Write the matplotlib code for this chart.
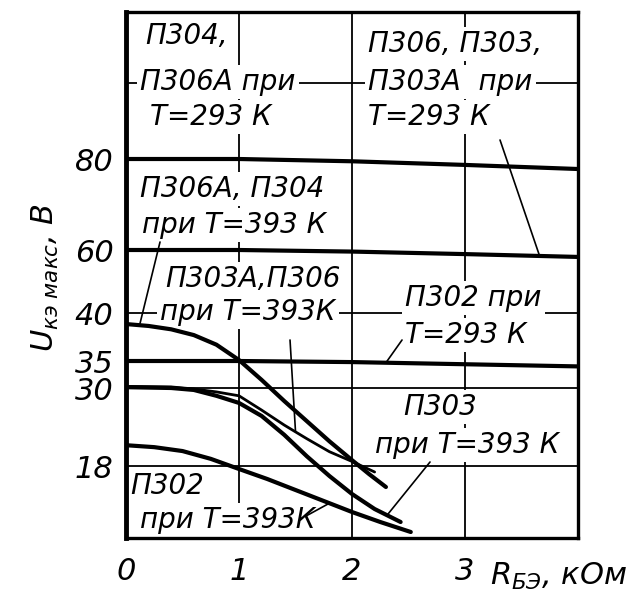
import numpy as np
import matplotlib
matplotlib.use('Agg')
import matplotlib.pyplot as plt

plt.rcParams['font.family'] = ['DejaVu Sans']
plt.rcParams['mathtext.fontset'] = 'dejavusans'

# flat curves (T = 293 K)
x_flat = [0, 1, 2, 3, 4]
u_p304_293 = [80, 80, 79.5, 78.7, 77.8]      # П304, П306А
u_p306_293 = [60, 60, 59.5, 58.7, 57.8]      # П306, П303, П303А
u_p302_293 = [35, 35, 34.8, 34.4, 34.0]      # П302

# falling curves (T = 393 K)
x_p306a_393 = [0, 0.2, 0.4, 0.6, 0.8, 1.0, 1.2, 1.4, 1.6, 1.8, 2.0, 2.15, 2.3]
u_p306a_393 = [38.85, 38.65, 38.3, 37.7, 36.7, 35.1, 31.5, 28.0, 24.9, 21.8, 18.9, 16.0, 12.75]

x_p303a_393 = [0, 0.4, 0.6, 0.8, 1.0, 1.2, 1.4, 1.6, 1.8, 2.0, 2.2]
u_p303a_393 = [30.3, 30.2, 29.85, 29.4, 28.8, 26.6, 24.3, 22.2, 20.2, 18.7, 16.5]

x_p303_393 = [0, 0.4, 0.6, 0.8, 1.0, 1.2, 1.4, 1.6, 1.8, 2.0, 2.2, 2.43]
u_p303_393 = [30.15, 30.0, 29.7, 28.8, 27.7, 25.7, 22.8, 19.5, 15.5, 11.0, 7.25, 4.0]

x_p302_393 = [0, 0.25, 0.5, 0.75, 1.0, 1.25, 1.5, 1.75, 2.0, 2.25, 2.52]
u_p302_393 = [21.2, 20.9, 20.3, 19.1, 17.25, 14.75, 12.0, 9.25, 6.5, 4.0, 1.5]

y_ticks = [18, 30, 35, 40, 60, 80]
x_ticks = [0, 1, 2, 3]
y_grid = [18, 30, 40, 100]

# the nomogram has an uneven vertical scale
Y_KNOTS = [0, 18, 30, 35, 40, 60, 80, 100, 120]
Y_POS = [0, 72, 150, 177, 225, 288, 379, 455, 526]


def fwd(v):
    return np.interp(v, Y_KNOTS, Y_POS)


def inv(p):
    return np.interp(p, Y_POS, Y_KNOTS)


fig = plt.figure(figsize=(6.32, 6.06), dpi=100)
ax = fig.add_axes([0.1994, 0.1122, 0.7152, 0.868])
ax.set_yscale('function', functions=(fwd, inv))
ax.set_xlim(0, 4)
ax.set_ylim(0, 120)

# grid
for g in y_grid:
    ax.axhline(g, color='black', lw=1.3, zorder=1)
for g in x_ticks[1:]:
    ax.axvline(g, color='black', lw=1.3, zorder=1)

lw = 3.0
ax.plot(x_flat, u_p304_293, color='black', lw=lw, zorder=3)
ax.plot(x_flat, u_p306_293, color='black', lw=lw, zorder=3)
ax.plot(x_flat, u_p302_293, color='black', lw=lw, zorder=3)
ax.plot(x_p306a_393, u_p306a_393, color='black', lw=lw, zorder=3,
        solid_capstyle='round', solid_joinstyle='round')
ax.plot(x_p303a_393, u_p303a_393, color='black', lw=2.0, zorder=3,
        solid_capstyle='round', solid_joinstyle='round')
ax.plot(x_p303_393, u_p303_393, color='black', lw=lw, zorder=3,
        solid_capstyle='round', solid_joinstyle='round')
ax.plot(x_p302_393, u_p302_393, color='black', lw=lw, zorder=3,
        solid_capstyle='round', solid_joinstyle='round')

ax.set_xticks(x_ticks)
ax.set_xticklabels([str(t) for t in x_ticks])
ax.set_yticks(y_ticks)
ax.set_yticklabels([str(t) for t in y_ticks])
ax.yaxis.set_minor_locator(matplotlib.ticker.NullLocator())
ax.tick_params(length=0, labelsize=22)
ax.tick_params(axis='y', pad=9)
ax.tick_params(axis='x', pad=14)
for lab in ax.get_xticklabels() + ax.get_yticklabels():
    lab.set_style('italic')

for side in ['top', 'right', 'bottom']:
    ax.spines[side].set_linewidth(2.4)
ax.spines['left'].set_linewidth(3.5)


def at(xp, yp):
    # pixel position of the reference picture -> axes fraction
    return ((xp - 126) / 452, (538 - yp) / 526)


box = dict(boxstyle='square,pad=0.12', fc='white', ec='none')
labels = [
    ('П304,', 145, 36),
    ('П306А при', 140, 82),
    ('Т=293 К', 150, 117),
    ('П306, П303,', 368, 44),
    ('П303А  при', 368, 82),
    ('Т=293 К', 368, 117),
    ('П306А, П304', 140, 189),
    ('при Т=393 К', 142, 225),
    ('П303А,П306', 165, 279),
    ('при Т=393К', 160, 312),
    ('П302 при', 405, 298),
    ('Т=293 К', 405, 335),
    ('П303', 403, 407),
    ('при Т=393 К', 375, 445),
    ('П302', 130, 486),
    ('при Т=393К', 140, 520),
]
for txt, xp, yp in labels:
    ax.text(*at(xp, yp), txt, transform=ax.transAxes, fontsize=20,
            style='italic', ha='left', va='center', bbox=box, zorder=2)

# leader lines from labels to curves
leaders = [
    ((500, 140), 3.66, x_flat, u_p306_293),
    ((160, 242), 0.12, x_p306a_393, u_p306a_393),
    ((290, 340), 1.5, x_p303a_393, u_p303a_393),
    ((402, 340), 2.3, x_flat, u_p302_293),
    ((430, 462), 2.31, x_p303_393, u_p303_393),
    ((306, 516), 1.8, x_p302_393, u_p302_393),
]
for (xp, yp), xv, xs, ys in leaders:
    ax.annotate('', xy=(xv, np.interp(xv, xs, ys)), xycoords='data',
                xytext=at(xp, yp), textcoords='axes fraction',
                arrowprops=dict(arrowstyle='-', color='black', lw=1.2,
                                shrinkA=0, shrinkB=0), zorder=2.5)

fig.text(45 / 632, 1 - 278 / 606, r'$U_{кэ\ макс}$, В', rotation=90,
         fontsize=22, style='italic', ha='center', va='center')
fig.text(490 / 632, 1 - 576 / 606, r'$R_{БЭ}$, кОм', fontsize=22,
         style='italic', ha='left', va='center')

fig.savefig('out.png', dpi=100)
